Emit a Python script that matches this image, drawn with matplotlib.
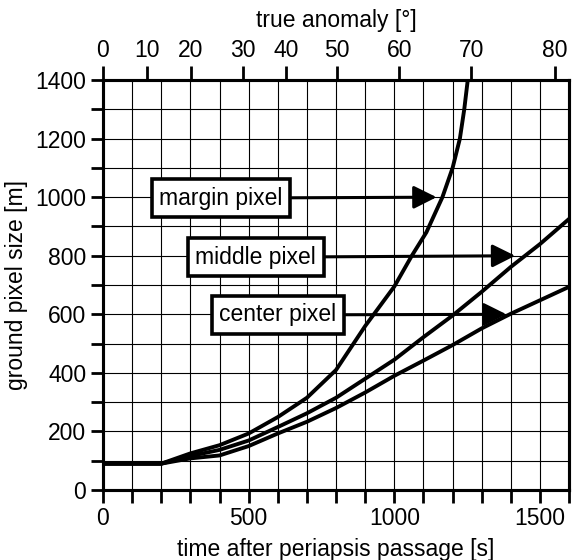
import numpy as np
import matplotlib.pyplot as plt

plt.rcParams['font.family'] = ['Liberation Sans', 'DejaVu Sans']

# ground pixel size [m] vs time after periapsis passage [s]
margin_t = [0, 200, 300, 400, 500, 600, 700, 800, 900, 1000, 1060, 1110, 1165, 1200, 1225, 1240, 1252]
margin_v = [90, 90, 125, 153, 193, 249, 315, 410, 560, 695, 800, 880, 1000, 1100, 1200, 1300, 1400]

middle_t = [0, 200, 300, 400, 500, 600, 700, 800, 900, 1000, 1100, 1200, 1300, 1400, 1500, 1600]
middle_v = [90, 90, 116, 137, 169, 215, 262, 315, 380, 445, 522, 596, 677, 762, 840, 926]

center_t = [0, 200, 300, 400, 500, 600, 700, 800, 900, 1000, 1100, 1200, 1300, 1400, 1500, 1600]
center_v = [90, 90, 108, 118, 150, 193, 233, 280, 333, 390, 442, 495, 552, 602, 648, 694]

# top axis: true anomaly ticks and where they fall on the time axis
anomaly_deg = [0, 10, 20, 30, 40, 50, 60, 70, 80]
anomaly_t = [0, 151, 302, 481, 628, 804, 1017, 1264, 1552]

fs = 16.5
lw_spine = 2.2

fig = plt.figure(figsize=(5.72, 5.6), dpi=100)
ax = fig.add_axes([0.18, 0.125, 0.815, 0.732])

ax.set_xlim(0, 1600)
ax.set_ylim(0, 1400)

xt = np.arange(0, 1601, 100)
ax.set_xticks(xt)
ax.set_xticklabels([str(v) if v % 500 == 0 else '' for v in xt], fontsize=fs)
yt = np.arange(0, 1401, 100)
ax.set_yticks(yt)
ax.set_yticklabels([str(v) if v % 200 == 0 else '' for v in yt], fontsize=fs)
ax.tick_params(direction='out', length=9, width=2, pad=3)
ax.grid(True, color='black', lw=0.8)
ax.set_axisbelow(True)

for s in ax.spines.values():
    s.set_linewidth(lw_spine)

for t, v in [(margin_t, margin_v), (middle_t, middle_v), (center_t, center_v)]:
    ax.plot(t, v, color='black', lw=2.8)

ax.set_xlabel('time after periapsis passage [s]', fontsize=fs, labelpad=6)
ax.set_ylabel('ground pixel size [m]', fontsize=fs, labelpad=5)

box = dict(boxstyle='square,pad=0.33', fc='white', ec='black', lw=2.6)
arrow = dict(arrowstyle='-|>,head_length=1.0,head_width=0.5', color='black', lw=2.2,
             shrinkA=0, shrinkB=0, mutation_scale=14)
ax.annotate('margin pixel', xy=(1145, 1000), xytext=(405, 997), fontsize=fs,
            ha='center', va='center', bbox=box, arrowprops=arrow, zorder=5)
ax.annotate('middle pixel', xy=(1415, 800), xytext=(524, 795), fontsize=fs,
            ha='center', va='center', bbox=box, arrowprops=arrow, zorder=5)
ax.annotate('center pixel', xy=(1385, 600), xytext=(600, 598), fontsize=fs,
            ha='center', va='center', bbox=box, arrowprops=arrow, zorder=5)

ax2 = ax.twiny()
ax2.set_xlim(0, 1600)
ax2.set_xticks(anomaly_t)
ax2.set_xticklabels([str(d) for d in anomaly_deg], fontsize=fs)
ax2.tick_params(direction='out', length=10, width=2, pad=3)
for s in ax2.spines.values():
    s.set_linewidth(lw_spine)
ax2.set_xlabel('true anomaly [°]', fontsize=fs, labelpad=9)

fig.savefig('out.png', dpi=100)
